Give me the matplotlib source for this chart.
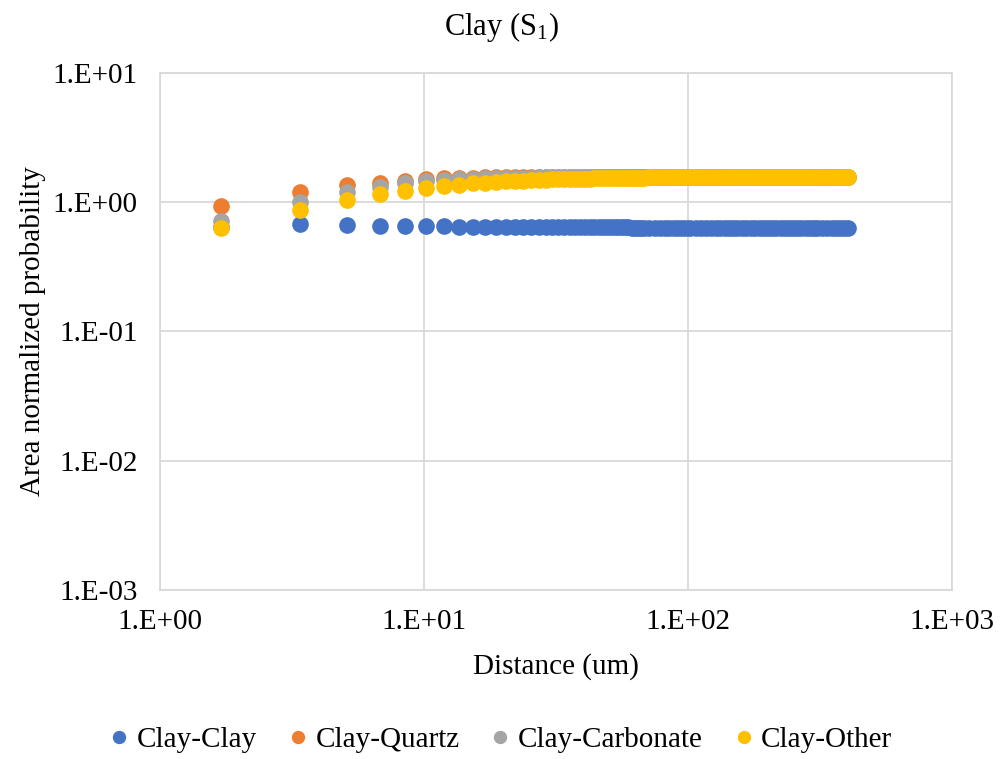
import numpy as np
import matplotlib
matplotlib.use('Agg')
import matplotlib.pyplot as plt
from matplotlib.ticker import FuncFormatter, LogLocator

plt.rcParams['font.family'] = ['Liberation Serif', 'DejaVu Serif']
plt.rcParams['mathtext.default'] = 'regular'

# distance (um) (dense bins, thinned where they overlap)
distance = [1.7, 3.4, 5.1, 6.8, 8.5, 10.2, 11.9, 13.6, 15.3, 17.0,
            18.7, 20.4, 22.1, 23.8, 25.5, 27.2, 28.9, 30.6, 32.3, 34.0,
            35.7, 37.4, 39.1, 40.8, 42.5, 44.2, 45.9, 47.6, 49.3, 51.0,
            52.7, 54.4, 56.1, 57.8, 59.5, 61.2, 62.9, 64.6, 66.3, 68.0,
            71.4, 74.8, 78.2, 81.6, 85.0, 88.4, 91.8, 95.2, 98.6, 102.0,
            107.1, 112.2, 117.3, 122.4, 127.5, 132.6, 137.7, 142.8, 147.9, 153.0,
            159.8, 166.6, 173.4, 180.2, 187.0, 193.8, 200.6, 207.4,
            215.9, 224.4, 232.9, 241.4, 249.9, 258.4,
            268.6, 278.8, 289.0, 299.2, 309.4,
            323.0, 336.6, 350.2, 363.8, 377.4, 391.0,
            402.9]

clay_clay = [0.640, 0.684, 0.672, 0.660, 0.655, 0.652, 0.650, 0.648, 0.647, 0.646,
             0.645, 0.645, 0.644, 0.644, 0.643, 0.643, 0.642, 0.642, 0.642, 0.641,
             0.641, 0.641, 0.640, 0.640, 0.640, 0.640, 0.639, 0.639, 0.639, 0.639,
             0.638, 0.638, 0.638, 0.638, 0.638, 0.637, 0.637, 0.637, 0.637, 0.637,
             0.636, 0.636, 0.636, 0.636, 0.636, 0.635, 0.635, 0.635, 0.635, 0.635,
             0.634, 0.634, 0.634, 0.634, 0.634, 0.634, 0.634, 0.634, 0.634, 0.634,
             0.633, 0.633, 0.633, 0.633, 0.633, 0.633, 0.633, 0.633,
             0.633, 0.633, 0.633, 0.633, 0.633, 0.633,
             0.632, 0.632, 0.632, 0.632, 0.632,
             0.632, 0.632, 0.632, 0.632, 0.632, 0.632,
             0.632]

clay_quartz = [0.936, 1.20, 1.35, 1.42, 1.46, 1.50, 1.53, 1.54, 1.55, 1.56,
               1.56, 1.57, 1.57, 1.57, 1.57, 1.58, 1.58, 1.58, 1.58, 1.58,
               1.58, 1.58, 1.58, 1.58, 1.58, 1.58, 1.58, 1.58, 1.58, 1.58,
               1.58, 1.58, 1.58, 1.58, 1.58, 1.58, 1.58, 1.58, 1.58, 1.58,
               1.58, 1.58, 1.58, 1.58, 1.58, 1.58, 1.58, 1.58, 1.58, 1.58,
               1.58, 1.58, 1.58, 1.58, 1.58, 1.58, 1.58, 1.58, 1.58, 1.58,
               1.58, 1.58, 1.58, 1.58, 1.58, 1.58, 1.58, 1.58,
               1.58, 1.58, 1.58, 1.58, 1.58, 1.58,
               1.58, 1.58, 1.58, 1.575, 1.575,
               1.575, 1.575, 1.575, 1.575, 1.575, 1.575,
               1.575]

clay_carbonate = [0.716, 1.00, 1.20, 1.31, 1.41, 1.45, 1.49, 1.51, 1.52, 1.53,
                  1.54, 1.54, 1.55, 1.55, 1.55, 1.56, 1.56, 1.56, 1.56, 1.56,
                  1.56, 1.56, 1.56, 1.56, 1.56, 1.56, 1.56, 1.56, 1.56, 1.56,
                  1.56, 1.56, 1.56, 1.56, 1.56, 1.56, 1.56, 1.56, 1.56, 1.56,
                  1.565, 1.565, 1.565, 1.565, 1.565, 1.565, 1.565, 1.565, 1.565, 1.565,
                  1.57, 1.57, 1.57, 1.57, 1.57, 1.57, 1.57, 1.57, 1.57, 1.57,
                  1.57, 1.57, 1.57, 1.57, 1.57, 1.57, 1.57, 1.57,
                  1.57, 1.57, 1.57, 1.57, 1.57, 1.57,
                  1.57, 1.57, 1.57, 1.57, 1.57,
                  1.57, 1.57, 1.57, 1.57, 1.57, 1.57,
                  1.57]

clay_other = [0.632, 0.877, 1.04, 1.15, 1.22, 1.28, 1.33, 1.37, 1.40, 1.42,
              1.44, 1.45, 1.46, 1.47, 1.48, 1.49, 1.49, 1.50, 1.50, 1.51,
              1.51, 1.51, 1.52, 1.52, 1.52, 1.53, 1.53, 1.53, 1.53, 1.54,
              1.54, 1.54, 1.54, 1.54, 1.55, 1.55, 1.55, 1.55, 1.55, 1.55,
              1.56, 1.56, 1.56, 1.56, 1.56, 1.56, 1.56, 1.57, 1.57, 1.57,
              1.57, 1.57, 1.57, 1.57, 1.57, 1.57, 1.57, 1.57, 1.57, 1.57,
              1.57, 1.57, 1.57, 1.57, 1.57, 1.57, 1.57, 1.57,
              1.57, 1.57, 1.57, 1.57, 1.57, 1.57,
              1.57, 1.57, 1.57, 1.57, 1.57,
              1.57, 1.57, 1.57, 1.57, 1.57, 1.57,
              1.57]

series = [('Clay-Clay', clay_clay, '#4472C4'),
          ('Clay-Quartz', clay_quartz, '#ED7D31'),
          ('Clay-Carbonate', clay_carbonate, '#A5A5A5'),
          ('Clay-Other', clay_other, '#FFC000')]

fig = plt.figure(figsize=(10.03, 7.59), dpi=100)
ax = fig.add_axes([0.1595, 0.2227, 0.7896, 0.6811])

for name, vals, col in series:
    ax.plot(distance, vals, 'o', color=col, markersize=12, markeredgewidth=0, label=name)

ax.set_xscale('log')
ax.set_yscale('log')
ax.set_xlim(1, 1000)
ax.set_ylim(1e-3, 10)

sci = FuncFormatter(lambda v, p: '1.E%+03d' % int(round(np.log10(v))))
ax.xaxis.set_major_locator(LogLocator(base=10, numticks=10))
ax.yaxis.set_major_locator(LogLocator(base=10, numticks=10))
ax.xaxis.set_minor_locator(plt.NullLocator())
ax.yaxis.set_minor_locator(plt.NullLocator())
ax.xaxis.set_major_formatter(sci)
ax.yaxis.set_major_formatter(sci)
ax.tick_params(length=0, labelsize=21, colors='black')
ax.tick_params(axis='x', pad=14)
ax.tick_params(axis='y', pad=16)

ax.grid(True, color='#d9d9d9', linewidth=1.3)
ax.set_axisbelow(True)
for s in ax.spines.values():
    s.set_color('#d9d9d9')
    s.set_linewidth(1.3)

ax.set_xlabel('Distance (um)', fontsize=21, labelpad=13)
ax.set_ylabel('Area normalized probability', fontsize=21, labelpad=5)
fig.text(0.4995, 0.965, 'Clay (S$_1$)', fontsize=22, ha='center', va='center')

fig.legend(loc='center', bbox_to_anchor=(0.5, 0.025), ncol=4, frameon=False,
           fontsize=21, markerscale=0.8, handlelength=0.6, handletextpad=0.3,
           columnspacing=1.1)

fig.savefig('out.png', dpi=100)
